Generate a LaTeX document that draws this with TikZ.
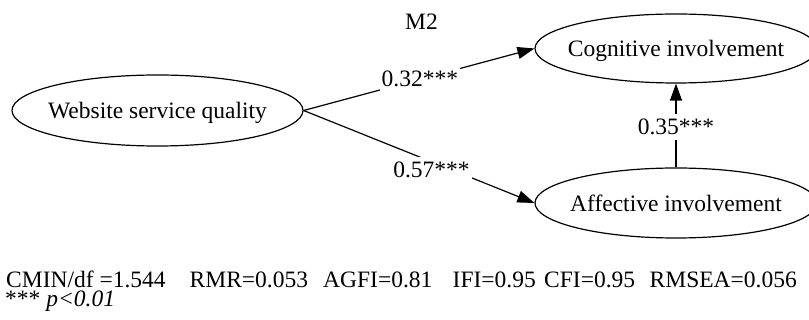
\documentclass[tikz,border=0pt]{standalone}
\usepackage{fontspec}
\setmainfont{Liberation Serif}
\usetikzlibrary{shapes.geometric,arrows.meta}
\begin{document}
\begin{tikzpicture}[x=1pt,y=-1pt,
  font=\fontsize{23.5}{28}\selectfont,
  latent/.style={draw, ellipse, line width=1.2pt, inner sep=0pt,
    minimum width=#1, text height=17pt, text depth=0pt},
  latent/.default=282pt,
  effect/.style={line width=1.2pt, -{Triangle[length=17pt,width=12pt]}},
  coef/.style={fill=white, inner xsep=2pt, inner ysep=5pt},
  stat/.style={anchor=base west, inner sep=0pt}]
\useasboundingbox (0,0) rectangle (809,320);

\node[anchor=base, inner sep=0pt] (title) at (421.5,29.3) {M2};

\node[latent=291pt, minimum height=71pt] (web) at (157.5,110.5) {\makebox[0pt]{Website service quality}};
\node[latent=282pt, minimum height=69pt] (cog) at (676,48.5) {\makebox[0pt]{Cognitive involvement}};
\node[latent=282pt, minimum height=70pt] (aff) at (676,203) {\makebox[0pt]{Affective involvement}};

\draw[effect] (web.east) -- node[coef, pos=0.504] (c1) {0.32***} (cog.west);
\draw[effect] (web.east) -- node[coef, pos=0.554, yshift=-8pt] (c2) {0.57***} (aff.west);
\draw[effect] (aff.north) -- node[coef, pos=0.485] (c3) {0.35***} (cog.south);

\node[stat] (s1) at (6,287.5) {CMIN/df =1.544};
\node[stat] (s2) at (189.5,287.5) {RMR=0.053};
\node[stat] (s3) at (323,287.5) {AGFI=0.81};
\node[stat] (s4) at (452.5,287.5) {IFI=0.95};
\node[stat] (s5) at (544,287.5) {CFI=0.95};
\node[stat] (s6) at (649.5,287.5) {RMSEA=0.056};
\node[stat] (sig) at (5,306.7) {*** \textit{p<0.01}};
\end{tikzpicture}
\end{document}
